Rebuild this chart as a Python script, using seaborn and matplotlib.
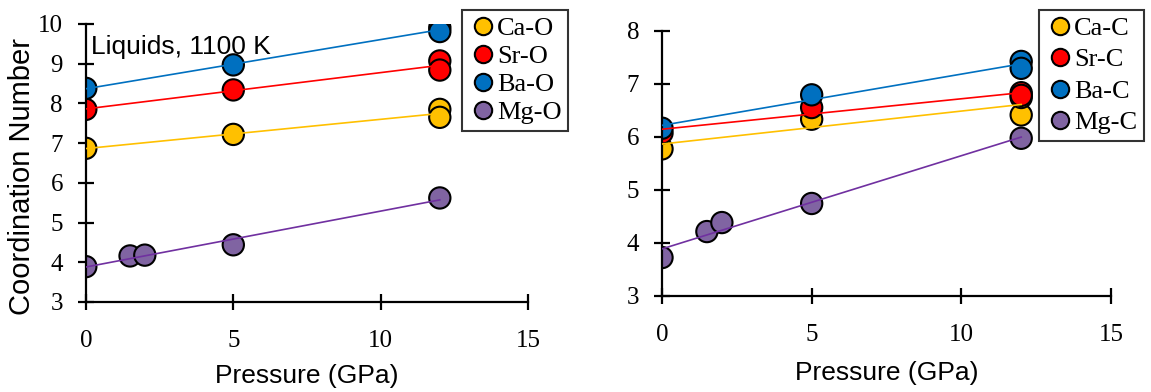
import numpy as np
import pandas as pd
import matplotlib
matplotlib.use("Agg")
import matplotlib.pyplot as plt
import seaborn as sns

# ---------------- data ----------------
# Left panel: M-O coordination numbers
ca_o_x = [0, 5, 12, 12]
ca_o_y = [6.87, 7.22, 7.85, 7.65]
sr_o_x = [0, 5, 12, 12]
sr_o_y = [7.85, 8.34, 9.07, 8.84]
ba_o_x = [0, 5, 12, 12]
ba_o_y = [8.38, 8.97, 9.91, 9.81]
mg_o_x = [0, 1.5, 2, 5, 12]
mg_o_y = [3.89, 4.16, 4.18, 4.44, 5.62]

# Right panel: M-C coordination numbers
ca_c_x = [0, 5, 12, 12]
ca_c_y = [5.77, 6.33, 6.41, 6.74]
sr_c_x = [0, 5, 12, 12]
sr_c_y = [6.07, 6.55, 6.83, 6.78]
ba_c_x = [0, 5, 12, 12]
ba_c_y = [6.16, 6.79, 7.42, 7.29]
mg_c_x = [0, 1.5, 2, 5, 12]
mg_c_y = [3.72, 4.21, 4.38, 4.74, 5.97]

labels_o = ["Ca-O", "Sr-O", "Ba-O", "Mg-O"]
labels_c = ["Ca-C", "Sr-C", "Ba-C", "Mg-C"]
x_ticks = [0, 5, 10, 15]
annotation = "Liquids, 1100 K"
xlabel = "Pressure (GPa)"
ylabel = "Coordination Number"

marker_colors = ["#FFC000", "#FF0000", "#0070C0", "#8064A2"]
line_colors = ["#FFC000", "#FF0000", "#0070C0", "#7030A0"]


def build(xs, ys, labels):
    frames = []
    for x, y, lab in zip(xs, ys, labels):
        frames.append(pd.DataFrame({"P": x, "CN": y, "pair": lab}))
    return pd.concat(frames, ignore_index=True)


df_o = build([ca_o_x, sr_o_x, ba_o_x, mg_o_x], [ca_o_y, sr_o_y, ba_o_y, mg_o_y], labels_o)
df_c = build([ca_c_x, sr_c_x, ba_c_x, mg_c_x], [ca_c_y, sr_c_y, ba_c_y, mg_c_y], labels_c)

W, H = 1151, 392
fig = plt.figure(figsize=(W / 100, H / 100), dpi=100)

serif = "Liberation Serif"
sans = "Liberation Sans"


def panel(rect, df, labels, ylim, yticks, legend_rect, labelspacing, xlabelpad):
    ax = fig.add_axes(rect)
    sns.scatterplot(data=df, x="P", y="CN", hue="pair", hue_order=labels,
                    palette=marker_colors, s=235, edgecolor="black",
                    linewidth=1.5, ax=ax, zorder=2)
    for lab, lc in zip(labels, line_colors):
        sub = df[df["pair"] == lab]
        sns.regplot(data=sub, x="P", y="CN", scatter=False, ci=None,
                    color=lc, line_kws={"linewidth": 1.2, "zorder": 3}, ax=ax,
                    truncate=True)
    ax.set_xlim(0, 15)
    ax.set_ylim(*ylim)
    ax.set_xticks(x_ticks)
    ax.set_yticks(yticks)
    for s in ["top", "right"]:
        ax.spines[s].set_visible(False)
    for s in ["left", "bottom"]:
        ax.spines[s].set_linewidth(1.6)
        ax.spines[s].set_color("black")
    ax.tick_params(direction="inout", length=11, width=1.6,
                   labelsize=18, colors="black")
    ax.tick_params(axis="x", pad=15)
    ax.tick_params(axis="y", pad=11)
    for t in ax.get_xticklabels() + ax.get_yticklabels():
        t.set_fontfamily(serif)
    ax.set_xlabel(xlabel, fontsize=19, fontfamily=sans, labelpad=xlabelpad)
    ax.set_ylabel("")
    handles, labs = ax.get_legend_handles_labels()
    ax.get_legend().remove()
    for h in handles:
        h.set_markersize(12.5)
        h.set_markeredgewidth(1.5)
        h.set_markeredgecolor("black")
    leg = ax.legend(handles, labs, loc="upper left",
                    bbox_to_anchor=(legend_rect[0] / W, 1 - legend_rect[1] / H),
                    bbox_transform=fig.transFigure, borderaxespad=0,
                    frameon=True, fancybox=False, edgecolor="black",
                    prop={"family": serif, "size": 19},
                    handlelength=1.1, handletextpad=-0.03, borderpad=0.25,
                    labelspacing=labelspacing)
    leg.get_frame().set_linewidth(1.5)
    return ax


# left panel: x 85.8->528.3 px, y 24->302 px
axL = panel([85.8 / W, (H - 302) / H, 442.5 / W, 278 / H], df_o, labels_o,
            (3, 10), [3, 4, 5, 6, 7, 8, 9, 10], (462, 10), 0.17, 8)
axL.set_ylabel(ylabel, fontsize=21, fontfamily=sans)
axL.yaxis.label.set_va("center")
axL.yaxis.set_label_coords(-0.144, 0.453)
axL.text(0.16, 9.42, annotation, fontsize=19, fontfamily=sans,
         ha="left", va="center")

# right panel: x 662->1111 px, y 30.7->295.7 px
axR = panel([662 / W, (H - 295.7) / H, 449 / W, 265 / H], df_c, labels_c,
            (3, 8), [3, 4, 5, 6, 7, 8], (1039, 10), 0.3, 11)

fig.savefig("out.png", dpi=100)
